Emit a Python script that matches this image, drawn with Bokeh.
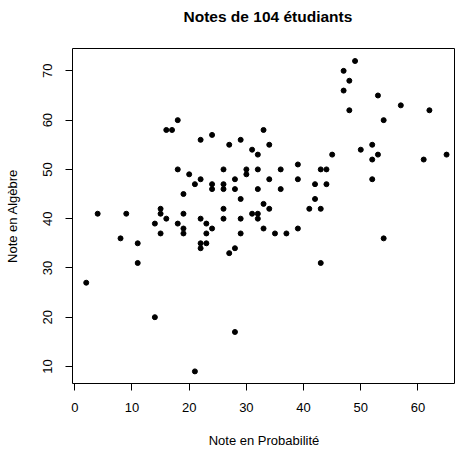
from bokeh.plotting import figure
from bokeh.models import Range1d, FixedTicker, Title
from bokeh.embed import file_html
from bokeh.resources import INLINE

# Data (Note en Probabilité, Note en Algèbre)
note_probabilite = [2, 4, 8, 9, 11, 11, 14, 14, 15, 15, 15, 16, 16, 17, 18, 18, 18,
                    19, 19, 19, 19, 20, 21, 21, 22, 22, 22, 22, 22, 23, 23, 23, 24,
                    24, 24, 24, 26, 26, 26, 26, 26, 27, 27, 28, 28, 28, 28, 29, 29,
                    29, 29, 30, 30, 31, 31, 32, 32, 32, 32, 32, 33, 33, 33, 34, 34,
                    34, 35, 36, 36, 37, 39, 39, 39, 41, 42, 42, 43, 43, 43, 44, 44,
                    45, 47, 47, 48, 48, 49, 50, 52, 52, 52, 53, 53, 54, 54, 57, 61,
                    62, 65]
note_algebre = [27, 41, 36, 41, 35, 31, 39, 20, 42, 41, 37, 40, 58, 58, 60, 50, 39,
                45, 41, 38, 37, 49, 47, 9, 56, 48, 40, 35, 34, 39, 37, 35, 57,
                47, 46, 38, 50, 47, 46, 42, 40, 55, 33, 48, 46, 34, 17, 56, 44,
                40, 37, 50, 49, 54, 41, 53, 50, 46, 41, 40, 58, 43, 38, 55, 48,
                42, 37, 50, 46, 37, 51, 48, 38, 42, 47, 44, 50, 42, 31, 50, 47,
                53, 70, 66, 68, 62, 72, 54, 55, 52, 48, 65, 53, 60, 36, 63, 52,
                62, 53]

x_ticks = [0, 10, 20, 30, 40, 50, 60]
y_ticks = [10, 20, 30, 40, 50, 60, 70]

title_text = "Notes de 104 étudiants"
x_label = "Note en Probabilité"
y_label = "Note en Algèbre"

FONT = "Liberation Sans"

p = figure(width=455, height=450, output_backend="svg", toolbar_location=None,
           x_range=Range1d(-0.4, 66.56), y_range=Range1d(6.54, 74.54),
           min_border_left=72, min_border_right=0, min_border_top=48,
           min_border_bottom=62)

# spacer between the frame and the title (closest to the frame)
spacer = Title(text=" ", text_font_size="2px", standoff=20, text_color="white")
p.add_layout(spacer, "above")

main_title = Title(text=title_text, align="left", offset=111, vertical_align="bottom",
                   text_font=FONT, text_font_size="15.5px", text_font_style="bold",
                   text_color="black", standoff=0)
p.add_layout(main_title, "above")

p.grid.visible = False
p.outline_line_color = "black"
p.outline_line_width = 1
p.background_fill_color = "white"
p.border_fill_color = "white"

p.scatter(note_probabilite, note_algebre, size=5, color="black", marker="circle")

for ax in (p.xaxis[0], p.yaxis[0]):
    ax.axis_line_color = None
    ax.major_tick_in = 0
    ax.major_tick_out = 7
    ax.major_tick_line_color = "black"
    ax.minor_tick_line_color = None
    ax.major_label_text_font = FONT
    ax.major_label_text_font_size = "13px"
    ax.major_label_text_color = "black"
    ax.axis_label_text_font = FONT
    ax.axis_label_text_font_size = "13px"
    ax.axis_label_text_font_style = "normal"
    ax.axis_label_text_color = "black"

p.xaxis[0].ticker = FixedTicker(ticks=x_ticks)
p.yaxis[0].ticker = FixedTicker(ticks=y_ticks)
p.xaxis[0].axis_label = x_label
p.yaxis[0].axis_label = y_label
p.xaxis[0].major_label_standoff = 12
p.yaxis[0].major_label_standoff = 13
p.xaxis[0].axis_label_standoff = 18
p.yaxis[0].axis_label_standoff = 21
p.yaxis[0].major_label_orientation = "vertical"

open("out.html", "w").write(file_html(p, INLINE))
